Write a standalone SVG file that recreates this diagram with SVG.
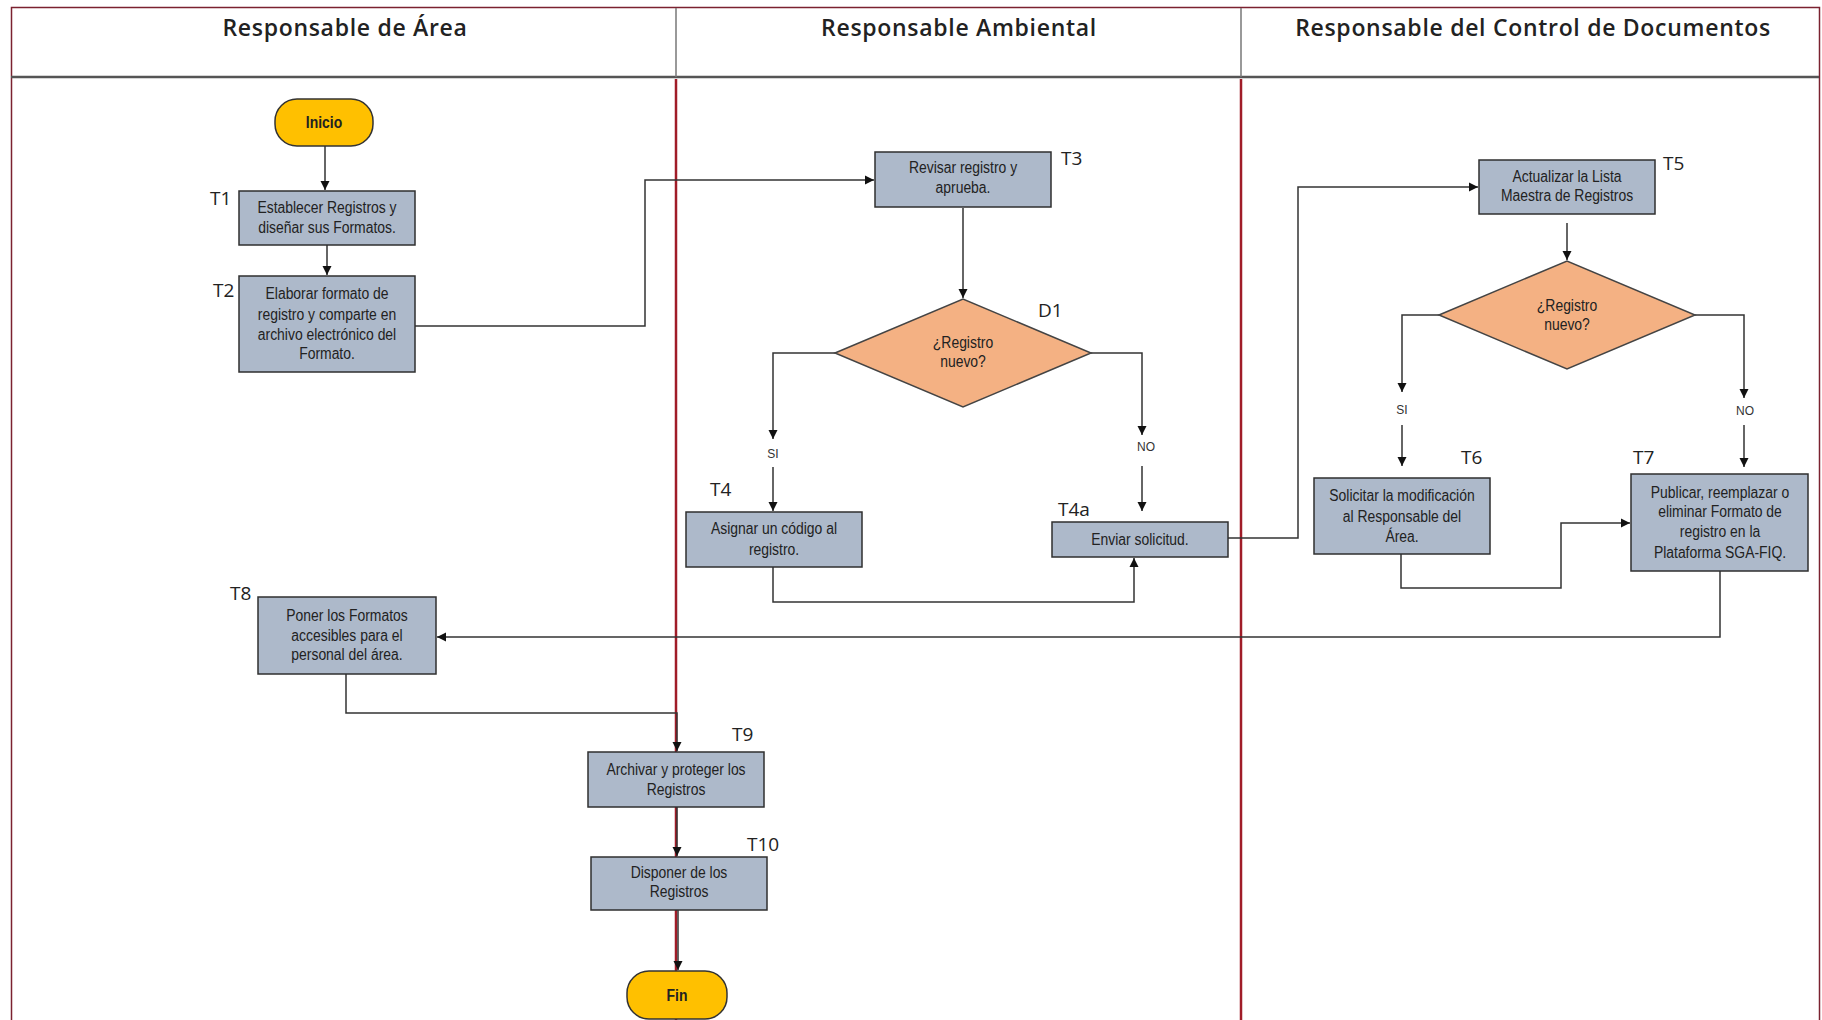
<svg xmlns="http://www.w3.org/2000/svg" width="1822" height="1020" viewBox="0 0 1822 1020">
<defs>
<style>
.frame{fill:#fff;stroke:#7B2230;stroke-width:1.5}
.hline{stroke:#555;stroke-width:2.5;fill:none}
.hdiv{stroke:#777;stroke-width:1.5;fill:none}
.lane{stroke:#A01C28;stroke-width:2.5;fill:none}
.ht{font-family:"Open Sans","Liberation Sans",Arial,sans-serif;font-weight:600;font-size:23px;letter-spacing:0.7px;fill:#222;text-anchor:middle}
.box{fill:#ADB9CA;stroke:#2F2F2F;stroke-width:1.5}
.dia{fill:#F4B183;stroke:#444;stroke-width:1.5}
.term{fill:#FFC000;stroke:#333;stroke-width:1.5}
.bt{font-family:"Liberation Sans",Arial,sans-serif;font-size:16px;fill:#222;text-anchor:middle}
.tt{font-family:"Liberation Sans",Arial,sans-serif;font-size:17px;font-weight:bold;fill:#222;text-anchor:middle}
.lbl{font-family:"Open Sans","Liberation Sans",sans-serif;font-size:19px;fill:#222}
.yn{font-family:"Liberation Sans",Arial,sans-serif;font-size:12px;fill:#333;text-anchor:middle}
.c{fill:none;stroke:#333;stroke-width:1.5}
</style>
<marker id="arr" viewBox="0 0 10 10" refX="10" refY="5" markerWidth="9" markerHeight="10" markerUnits="userSpaceOnUse" orient="auto">
<path d="M0,0 L10,5 L0,10 z" fill="#111"/>
</marker>
</defs>

<g id="swimlanes">
<rect class="frame" x="11.5" y="7.5" width="1808" height="1030"/>
<line class="hline" x1="11" y1="77" x2="1819" y2="77"/>
<line class="hdiv" x1="676" y1="8" x2="676" y2="77"/>
<line class="hdiv" x1="1241" y1="8" x2="1241" y2="77"/>
<line class="lane" x1="676" y1="79" x2="676" y2="1020"/>
<line class="lane" x1="1241" y1="79" x2="1241" y2="1020"/>
<text class="ht" x="345" y="36">Responsable de Área</text>
<text class="ht" x="959" y="36">Responsable Ambiental</text>
<text class="ht" x="1533" y="36">Responsable del Control de Documentos</text>
</g>

<g id="connectors">
<path class="c" d="M325 146 V190" marker-end="url(#arr)"/>
<path class="c" d="M327 245 V275" marker-end="url(#arr)"/>
<path class="c" d="M415 326 H645 V180 H874" marker-end="url(#arr)"/>
<path class="c" d="M963 208 V298" marker-end="url(#arr)"/>
<path class="c" d="M835 353 H773 V439" marker-end="url(#arr)"/>
<path class="c" d="M773 467 V511" marker-end="url(#arr)"/>
<path class="c" d="M1091 353 H1142 V435" marker-end="url(#arr)"/>
<path class="c" d="M1142 466 V511" marker-end="url(#arr)"/>
<path class="c" d="M773 567 V602 H1134 V558" marker-end="url(#arr)"/>
<path class="c" d="M1228 538 H1298 V187 H1478" marker-end="url(#arr)"/>
<path class="c" d="M1567 223 V260" marker-end="url(#arr)"/>
<path class="c" d="M1439 315 H1402 V392" marker-end="url(#arr)"/>
<path class="c" d="M1402 425 V466" marker-end="url(#arr)"/>
<path class="c" d="M1695 315 H1744 V398" marker-end="url(#arr)"/>
<path class="c" d="M1744 425 V467" marker-end="url(#arr)"/>
<path class="c" d="M1401 554 V588 H1561 V523 H1630" marker-end="url(#arr)"/>
<path class="c" d="M1720 571 V637 H437" marker-end="url(#arr)"/>
<path class="c" d="M346 674 V713 H677 V751" marker-end="url(#arr)"/>
<path class="c" d="M677 807 V856" marker-end="url(#arr)"/>
<path class="c" d="M678 910 V970" marker-end="url(#arr)"/>
<text class="yn" x="773" y="458">SI</text>
<text class="yn" x="1146" y="451">NO</text>
<text class="yn" x="1402" y="414">SI</text>
<text class="yn" x="1745" y="415">NO</text>
</g>

<g id="inicio">
<rect class="term" x="275" y="99" width="98" height="47" rx="22"/>
<text class="tt" transform="translate(324,0) scale(0.82,1)" x="0" y="128">Inicio</text>
</g>

<g id="T1">
<rect class="box" x="239" y="191" width="176" height="54"/>
<text class="bt" transform="translate(327,0) scale(0.87,1)"><tspan x="0" y="213">Establecer  Registros  y</tspan><tspan x="0" y="233">diseñar  sus Formatos.</tspan></text>
<text class="lbl" x="210" y="205">T1</text>
</g>

<g id="T2">
<rect class="box" x="239" y="276" width="176" height="96"/>
<text class="bt" transform="translate(327,0) scale(0.87,1)"><tspan x="0" y="299">Elaborar  formato  de</tspan><tspan x="0" y="320">registro  y comparte  en</tspan><tspan x="0" y="340">archivo  electrónico  del</tspan><tspan x="0" y="359">Formato.</tspan></text>
<text class="lbl" x="213" y="297">T2</text>
</g>

<g id="T3">
<rect class="box" x="875" y="152" width="176" height="55"/>
<text class="bt" transform="translate(963,0) scale(0.87,1)"><tspan x="0" y="173">Revisar registro  y</tspan><tspan x="0" y="193">aprueba.</tspan></text>
<text class="lbl" x="1061" y="165">T3</text>
</g>

<g id="D1">
<polygon class="dia" points="835,353 963,299 1091,353 963,407"/>
<text class="bt" transform="translate(963,0) scale(0.87,1)"><tspan x="0" y="348">¿Registro</tspan><tspan x="0" y="367">nuevo?</tspan></text>
<text class="lbl" x="1038" y="317">D1</text>
</g>

<g id="T4">
<rect class="box" x="686" y="512" width="176" height="55"/>
<text class="bt" transform="translate(774,0) scale(0.87,1)"><tspan x="0" y="534">Asignar  un  código  al</tspan><tspan x="0" y="555">registro.</tspan></text>
<text class="lbl" x="710" y="496">T4</text>
</g>

<g id="T4a">
<rect class="box" x="1052" y="522" width="176" height="35"/>
<text class="bt" transform="translate(1140,0) scale(0.87,1)" x="0" y="545">Enviar solicitud.</text>
<text class="lbl" x="1058" y="516">T4a</text>
</g>

<g id="T5">
<rect class="box" x="1479" y="160" width="176" height="54"/>
<text class="bt" transform="translate(1567,0) scale(0.87,1)"><tspan x="0" y="182">Actualizar  la Lista</tspan><tspan x="0" y="201">Maestra de Registros</tspan></text>
<text class="lbl" x="1663" y="170">T5</text>
</g>

<g id="D2">
<polygon class="dia" points="1439,315 1567,261 1695,315 1567,369"/>
<text class="bt" transform="translate(1567,0) scale(0.87,1)"><tspan x="0" y="311">¿Registro</tspan><tspan x="0" y="330">nuevo?</tspan></text>
</g>

<g id="T6">
<rect class="box" x="1314" y="478" width="176" height="76"/>
<text class="bt" transform="translate(1402,0) scale(0.87,1)"><tspan x="0" y="501">Solicitar  la modificación</tspan><tspan x="0" y="522">al Responsable   del</tspan><tspan x="0" y="542">Área.</tspan></text>
<text class="lbl" x="1461" y="464">T6</text>
</g>

<g id="T7">
<rect class="box" x="1631" y="474" width="177" height="97"/>
<text class="bt" transform="translate(1720,0) scale(0.87,1)"><tspan x="0" y="498">Publicar,  reemplazar  o</tspan><tspan x="0" y="517">eliminar  Formato  de</tspan><tspan x="0" y="537">registro  en la</tspan><tspan x="0" y="558">Plataforma  SGA-FIQ.</tspan></text>
<text class="lbl" x="1633" y="464">T7</text>
</g>

<g id="T8">
<rect class="box" x="258" y="597" width="178" height="77"/>
<text class="bt" transform="translate(347,0) scale(0.87,1)"><tspan x="0" y="621">Poner los Formatos</tspan><tspan x="0" y="641">accesibles  para el</tspan><tspan x="0" y="660">personal  del área.</tspan></text>
<text class="lbl" x="230" y="600">T8</text>
</g>

<g id="T9">
<rect class="box" x="588" y="752" width="176" height="55"/>
<text class="bt" transform="translate(676,0) scale(0.87,1)"><tspan x="0" y="775">Archivar y proteger  los</tspan><tspan x="0" y="795">Registros</tspan></text>
<text class="lbl" x="732" y="741">T9</text>
</g>

<g id="T10">
<rect class="box" x="591" y="857" width="176" height="53"/>
<text class="bt" transform="translate(679,0) scale(0.87,1)"><tspan x="0" y="878">Disponer  de los</tspan><tspan x="0" y="897">Registros</tspan></text>
<text class="lbl" x="747" y="851">T10</text>
</g>

<g id="fin">
<rect class="term" x="627" y="971" width="100" height="48" rx="22"/>
<text class="tt" transform="translate(677,0) scale(0.82,1)" x="0" y="1001">Fin</text>
</g>
</svg>
